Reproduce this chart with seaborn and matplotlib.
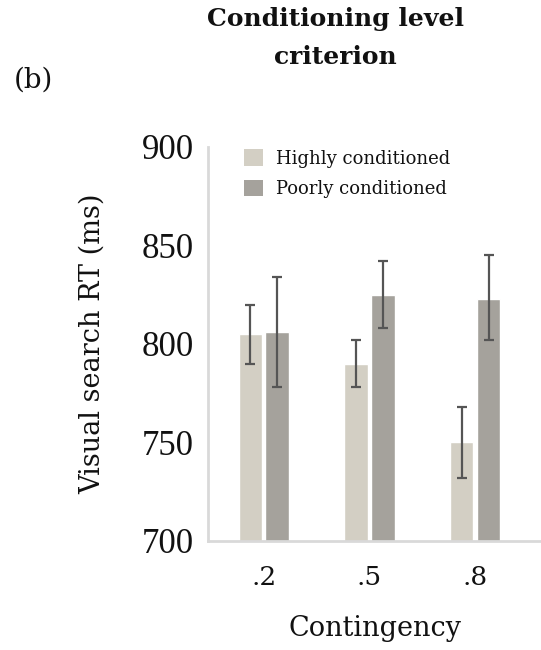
import matplotlib
matplotlib.use("Agg")
import matplotlib.pyplot as plt
import seaborn as sns
import pandas as pd
import numpy as np
from matplotlib.patches import Patch

contingency = [".2", ".5", ".8"]
groups = ["Highly conditioned", "Poorly conditioned"]
highly_rt = [805, 790, 750]
poorly_rt = [806, 825, 823]
highly_lo = [790, 778, 732]
highly_hi = [820, 802, 768]
poorly_lo = [778, 808, 802]
poorly_hi = [834, 842, 845]
colors = ["#D3CFC4", "#A5A29C"]

df = pd.DataFrame({
    "Contingency": contingency * 2,
    "Group": [groups[0]] * 3 + [groups[1]] * 3,
    "RT": highly_rt + poorly_rt,
})

sns.set_style("white")
fig = plt.figure(figsize=(5.41, 6.5), dpi=100)
ax = fig.add_axes([0.3845, 0.1677, 0.6155, 0.6062])

sns.barplot(data=df, x="Contingency", y="RT", hue="Group", order=contingency,
            hue_order=groups, palette=colors, width=0.51, gap=0.13,
            errorbar=None, ax=ax, legend=False, saturation=1)

bar_containers = list(ax.containers)
means = [highly_rt, poorly_rt]
los = [highly_lo, poorly_lo]
his = [highly_hi, poorly_hi]
for k, cont in enumerate(bar_containers):
    xs = [p.get_x() + p.get_width() / 2 for p in cont.patches]
    ys = np.array(means[k], dtype=float)
    lo = np.array(los[k]); hi = np.array(his[k])
    ax.errorbar(xs, ys, yerr=[ys - lo, hi - ys], fmt="none", ecolor="#555555",
                elinewidth=1.6, capsize=3.5, capthick=1.6)

ax.set_ylim(700, 900)
ax.set_xlim(-0.527, 2.624)
ax.set_yticks([700, 750, 800, 850, 900])
for s in ["top", "right"]:
    ax.spines[s].set_visible(False)
for s in ["left", "bottom"]:
    ax.spines[s].set_color("#D9D9D9")
    ax.spines[s].set_linewidth(2)
ax.tick_params(axis="both", length=0)
ax.tick_params(axis="y", pad=10)
ax.tick_params(axis="x", pad=17)
for lab in ax.get_yticklabels():
    lab.set_fontfamily("Liberation Serif"); lab.set_fontsize(25); lab.set_color("#111111")
for lab in ax.get_xticklabels():
    lab.set_fontfamily("DejaVu Serif"); lab.set_fontsize(19); lab.set_color("#111111")

ax.set_ylabel("Visual search RT (ms)", fontfamily="DejaVu Serif", fontsize=19.5,
              labelpad=26, color="#111111")
ax.set_xlabel("Contingency", fontfamily="DejaVu Serif", fontsize=19.5, labelpad=18,
              color="#111111")

handles = [Patch(facecolor=c, edgecolor="none") for c in colors]
ax.legend(handles, groups, loc="upper left", bbox_to_anchor=(0.06, 1.035),
          frameon=False, handlelength=1.05, handleheight=1.05, handletextpad=0.7,
          labelspacing=0.65, prop={"family": "DejaVu Serif", "size": 13})
for t in ax.get_legend().get_texts():
    t.set_color("#111111")

fig.text(0.62, 0.989, "Conditioning level\ncriterion", ha="center", va="top",
         fontfamily="DejaVu Serif", fontweight="bold", fontsize=18, linespacing=1.75,
         color="#111111")
fig.text(0.025, 0.877, "(b)", ha="left", va="center", fontfamily="DejaVu Serif",
         fontsize=20, color="#111111")

fig.savefig("out.png", dpi=100)
